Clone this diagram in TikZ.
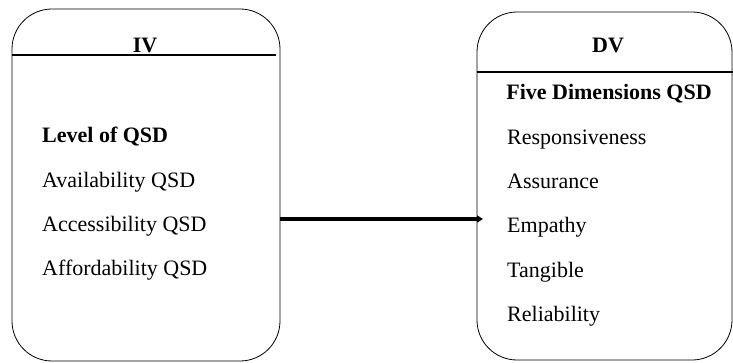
\documentclass[tikz,border=0pt]{standalone}
\usepackage{fontspec}
\setmainfont{Liberation Serif}
\usetikzlibrary{
    arrows.meta,
    positioning
}
\tikzset{
  varbox/.style = {draw, line width=0.8pt, rounded corners=40pt,
                   inner sep=0pt},
  head/.style   = {anchor=base, inner sep=0pt,
                   font=\fontsize{22}{26}\selectfont\bfseries},
  item/.style   = {anchor=base west, inner sep=0pt,
                   font=\fontsize{22}{26}\selectfont},
  rule/.style   = {line width=1.8pt}
}

\begin{document}
\begin{tikzpicture}[
    x=1pt, y=-1pt,
    link/.style={-{Triangle[length=6pt, width=7pt]}, line width=4pt}
  ]
    \useasboundingbox (0,0) rectangle (733,363);
    % Independent variable
    \node[varbox, minimum width=268pt, minimum height=352pt](ivbox) at (146,185) {};
    \node[head](ivtitle) at (145,53) {IV};
    \coordinate (ivrule) at (276,55);
    \draw[rule](ivbox.west |- ivrule)--(ivrule);
    \node[item, font=\fontsize{22}{26}\selectfont\bfseries](level) at (42,143) {Level of QSD};
    \node[item](avail)  at (42,188) {Availability QSD};
    \node[item](access) at (42,232) {Accessibility QSD};
    \node[item](afford) at (42,276) {Affordability QSD};
    % Dependent variable
    \node[varbox, minimum width=255pt, minimum height=348pt](dvbox) at (604.5,186) {};
    \node[head](dvtitle) at (608,53) {DV};
    \coordinate (dvrule) at (733,72);
    \draw[rule](dvbox.west |- dvrule)--(dvrule);
    \node[head](five)   at (609,100) {Five Dimensions QSD};
    \node[item](resp)   at (507,145) {Responsiveness};
    \node[item](assur)  at (507,189) {Assurance};
    \node[item](empath) at (507,233) {Empathy};
    \node[item](tang)   at (507,277) {Tangible};
    \node[item](relia)  at (507,321) {Reliability};

    \coordinate (tip) at (483,219);
    \draw[link](ivbox.east |- tip)--(tip);
  \end{tikzpicture}
\end{document}
